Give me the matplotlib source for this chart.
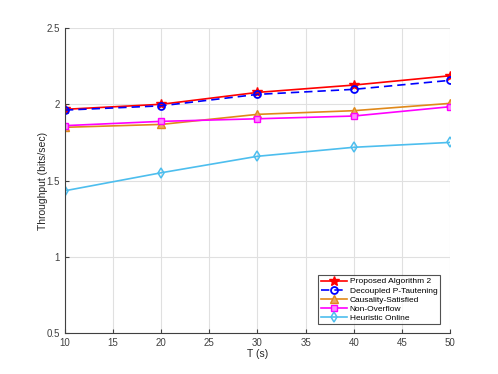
import numpy as np
import matplotlib
matplotlib.use("Agg")
import matplotlib.pyplot as plt

T = [10, 20, 30, 40, 50]
proposed = [1.967, 2.000, 2.078, 2.126, 2.187]
decoupled = [1.962, 1.990, 2.065, 2.098, 2.157]
causality = [1.849, 1.868, 1.934, 1.958, 2.006]
non_overflow = [1.860, 1.888, 1.905, 1.923, 1.984]
heuristic = [1.433, 1.551, 1.659, 1.718, 1.750]

plt.rcParams['font.family'] = ['Liberation Sans', 'DejaVu Sans']

fig = plt.figure(figsize=(4.98, 3.74), dpi=100)
ax = fig.add_axes([0.1305, 0.1096, 0.773, 0.8154])

ax.plot(T, proposed, color='#FF0000', marker='*', markersize=7.5, lw=1.2, label='Proposed Algorithm 2')
ax.plot(T, decoupled, color='#0000FF', ls=(0, (5, 3)), marker='o', markersize=5, mfc='none', mew=1.3, lw=1.2,
        label='Decoupled P-Tautening')
ax.plot(T, causality, color='#E0891A', marker='^', markersize=5.5, mfc='#EBA860', lw=1.2, label='Causality-Satisfied')
ax.plot(T, non_overflow, color='#FF00FF', marker='s', markersize=5, mfc='#FF88FF', lw=1.2, label='Non-Overflow')
ax.plot(T, heuristic, color='#4DBEEE', marker='d', markersize=5.5, mfc='none', mew=1.1, lw=1.2, label='Heuristic Online')

ax.set_xlim(10, 50)
ax.set_ylim(0.5, 2.5)
ax.set_xticks(np.arange(10, 51, 5))
ax.set_yticks([0.5, 1, 1.5, 2, 2.5])
ax.set_yticklabels(['0.5', '1', '1.5', '2', '2.5'])
ax.grid(True, color='#E0E0E0', lw=0.8)
ax.set_axisbelow(True)
for s in ['top', 'right']:
    ax.spines[s].set_visible(False)
for s in ['left', 'bottom']:
    ax.spines[s].set_color('#404040')
    ax.spines[s].set_linewidth(0.8)
ax.tick_params(labelsize=7, colors='#404040', length=3, direction='in')
ax.set_xlabel('T (s)', fontsize=7.5, color='#262626', labelpad=1)
ax.set_ylabel('Throughput (bits/sec)', fontsize=7.5, color='#262626', labelpad=-1)

leg = ax.legend(loc='lower right', fontsize=6, fancybox=False, edgecolor='#262626',
                borderpad=0.3, labelspacing=0.15, handlelength=3.2, handletextpad=0.3,
                bbox_to_anchor=(0.985, 0.015))
leg.get_frame().set_linewidth(0.8)

fig.savefig('out.png', dpi=100)
